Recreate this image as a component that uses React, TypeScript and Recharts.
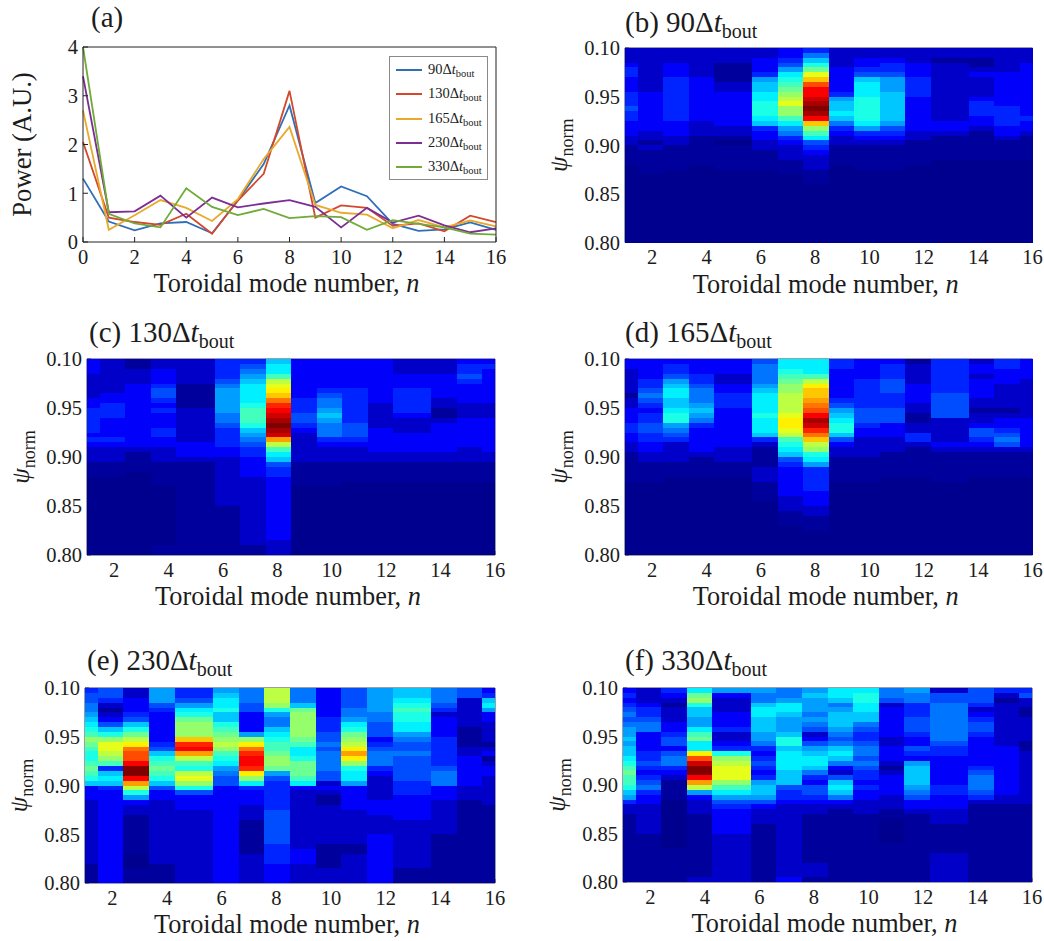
import React from "react";
import { LineChart, Line, ScatterChart, Scatter, XAxis, YAxis, Legend } from "recharts";

const MODES = [0, 1, 2, 3, 4, 5, 6, 7, 8, 9, 10, 11, 12, 13, 14, 15, 16];
const P90 = [1.3, 0.42, 0.24, 0.38, 0.41, 0.18, 0.85, 1.6, 2.8, 0.8, 1.14, 0.94, 0.37, 0.23, 0.26, 0.4, 0.25];
const P130 = [2.05, 0.5, 0.41, 0.35, 0.58, 0.17, 0.85, 1.4, 3.1, 0.5, 0.75, 0.7, 0.33, 0.38, 0.22, 0.54, 0.41];
const P165 = [2.7, 0.25, 0.55, 0.86, 0.7, 0.43, 0.88, 1.7, 2.36, 0.76, 0.6, 0.56, 0.28, 0.45, 0.3, 0.44, 0.32];
const P230 = [3.4, 0.61, 0.63, 0.95, 0.5, 0.91, 0.71, 0.79, 0.86, 0.72, 0.3, 0.7, 0.4, 0.54, 0.34, 0.2, 0.28];
const P330 = [4.0, 0.58, 0.38, 0.3, 1.1, 0.72, 0.55, 0.68, 0.49, 0.53, 0.51, 0.25, 0.45, 0.37, 0.3, 0.17, 0.15];
const SERIES_NAMES = ["90", "130", "165", "230", "330"];
const SERIES_VALUES = [P90, P130, P165, P230, P330];
const SERIES_COLORS = ["#2f6fb8", "#d4472a", "#e9a92d", "#7b2f92", "#6fab38"];

const X_TICKS_A = [0, 2, 4, 6, 8, 10, 12, 14, 16];
const Y_TICKS_A = [0, 1, 2, 3, 4];
const X_TICKS = [2, 4, 6, 8, 10, 12, 14, 16];
const Y_TICKS = [0.8, 0.85, 0.9, 0.95, 1.0];
const Y_TICK_LABELS = ["0.80", "0.85", "0.90", "0.95", "0.10"];

// Heat levels a (lowest) .. z (highest): one string per toroidal mode n = 1..16, 40 psi rows from top to bottom.
const HEAT_B = [
  "cccdeedddeeefeedddccbbbbaaaaaaaaaaaaaaaa",
  "cccccccccddddddddccbcbbbbbaaaaaaaaaaaaaa",
  "cccdddeeeeeeeeedddccbbbbbaaaaaaaaaaaaaaa",
  "ccccccdddddddddcccbbbbbbaaaaaaaaaaaaaaaa",
  "cccbbbbccdddddddccbabbbbbaaaaaaaaaaaaaaa",
  "ccdddehiijjkkkjieddccbbbbaaaaaaaaaaaaaaa",
  "ddefhjklmnopnnljhgedcccbbbaaaaaaaaaaaaaa",
  "egikmpruwwxyzywrnljfedcccbbbaaaaaaaaaaaa",
  "ccccdddddehiijigedccbbbbaaaaaaaaaaaaaaaa",
  "ccddefijjjkkkkkjhedcbbbbbaaaaaaaaaaaaaaa",
  "ccdeefhhhiiiiiihfedcbbbbbaaaaaaaaaaaaaaa",
  "cccdddeeeedddddddccbbbbbaaaaaaaaaaaaaaaa",
  "ccbccccccccccccddcbbbbbaaaaaaaaaaaaaaaaa",
  "ccbbcdccccdeeeddcbbbbbbaaaaaaaaaaaaaaaaa",
  "cccccdddddddeeeeddcbbbbaaaaaaaaaaaaaaaaa",
  "cccdddddddddddeddcbbbbbaaaaaaaaaaaaaaaaa",
];
const HEAT_C = [
  "dddcccccddeeeeededcccbbbaaaaaaaaaaaaaaaa",
  "cccccccddeeeddddedcccbbbaaaaaaaaaaaaaaaa",
  "bbcccdddddddddddddcbbbbaaaaaaaaaaaaaaaaa",
  "ccdddeffededddeeddcccbbbbbaaaaaaaaaaaabb",
  "cccccbbbbbcccccccdddcbbbbbbbbbbbbbbbbbbb",
  "eeeefghhhhhggfeeeeddccccccccccbbbbbbbbbb",
  "efghijjjjklllkihgfeeddddccccccccccccccbb",
  "ijjlopqrtvwxyzyxsoljifeedddddddddddddccc",
  "ddddddddeeeffedccccccbbbbbaaaaaaaaaaaaaa",
  "ddddddefgghihgggedcccbbbbbaaaaaaaaaaaaaa",
  "ddddddeeeeeeefffedcccbbbbaaaaaaaaaaaaaaa",
  "dddddddddcccccdddddccbbbbaaaaaaaaaaaaaaa",
  "cccdddeeeeedcccddddccbbbbaaaaaaaaaaaaaaa",
  "cccdddddccbbcddddddccbbbbaaaaaaaaaaaaaaa",
  "deefeddddcccddddddcccbbbbaaaaaaaaaaaaaaa",
  "dedddddddcccdddddddccbbbbaaaaaaaaaaaaaaa",
];
const HEAT_D = [
  "ddcccccbccdddeeddccbbbbbbaaaaaaaaaaaaaaa",
  "ddddeefgfedeeffeeddccbbbbaaaaaaaaaaaaaaa",
  "deefhijjiijkkhgfeccccbbbaaaaaaaaaaaaaaaa",
  "dddeefggghihgedddddcbbbbaaaaaaaaaaaaaaaa",
  "dddccddeeeddddddddcccbbbaaaaaaaaaaaaaaaa",
  "fgggghijjjjkjjjiecbbbbcccbbbbaaaaaaaaaaa",
  "jjklmnnoooopqqpolkjifeddddddcccbbbaaaaaa",
  "jjjloqrrstuwyxvtronkjheeeeedddccbbbaaaaa",
  "eeddddddefhijkkifdccbbbbbaaaaaaaaaaaaaaa",
  "ddddeeeeeefffeddccccbbbbbaaaaaaaaaaaaaaa",
  "deeefffeeefffdddcccbbbbbaaaaaaaaaaaaaaaa",
  "bccccddddccbbcceecbbbbbbaaaaaaaaaaaaaaaa",
  "eeeeeeefffffcccccdcbbbbbbaaaaaaaaaaaaaaa",
  "cddcddddccbccdffedcbbbbbaaaaaaaaaaaaaaaa",
  "eedddcccccbcddefgfcbbbbbaaaaaaaaaaaaaaaa",
  "ddddccccccccddddddcbbbbbaaaaaaaaaaaaaaaa",
];
const HEAT_E = [
  "effgghijklnmlkklmlkidddcccccccccccccbbbb",
  "ffecbcdfiknpponleijieddddddddddddddddddd",
  "ccdddefikmoqtuuwzzwsokhdccbbbbbbbbaaabbb",
  "hhhfeddddddefiklmlkifddcccccccccccccbbbb",
  "eefhjkmnnnrvwsolkopnkfdddccccccccccccccc",
  "hijjkiiklmnonlkjhgffdddddddddddddddddddd",
  "gggffddddhnqtvwwvqnjedddcccbbbbbbbcccccc",
  "ooonkhggijkllmnnmhfeeeeeefffffffeeeedddd",
  "gggimnnnnnmljjkmmmljdccccccccccccdddcccc",
  "ddddddeeeffgfggggffcdcbbccccccccbbbbbccc",
  "ffffgghjkmnoqsqnkjjhdddddcccccccbbcccccc",
  "hhhhhggfffdefgggedcccccdddccccdddddddddd",
  "iijklkkjjhgffgfffffeeedddddccccccccccbbb",
  "gggfecddddeeeeeefgggdddcccccccbbbbbbbbbb",
  "ffccccccbbbbccddddddcccbbbbbbbbbbbbbbbbb",
  "deijhddccccbcdbcddccccccbbbbbbbbbbbbbbbb",
];
const HEAT_F = [
  "dedefgfghhihiijklmllkiheccbbbbbbbbbbbbbb",
  "cccdeefggddddeefedefgeddccccccbbbbbbbbbb",
  "edcbcccddeffdfggedcbbbbaaaaaaaaaabbbbbbb",
  "jmnkiihhjlmjjquxzzwsohdcccbbbbbbbbbbbbbc",
  "hdcccdddeccdeknopppnljhfedddddcccccccccc",
  "hggijjiiihhgedefedehiihfdcccbbbbbbbbbbbb",
  "gghjjihhhikkijjjjiiifeedcccccccccccccccd",
  "hihhhghgfcdfhijjigedffedccbbbbbbbbbbcccb",
  "jjighiiihgfgijigdcfijigdcbbbbbbbbbbbbbbb",
  "jkkjjiigfeefggfgfeededdcccbbbbbbbbbbbbbb",
  "ggfcddddddccdddcbcddddcccbbaaaaabbbbbbbb",
  "hggeeefffeddfedhiiiihgfddcbbbbbbbbbbbbbb",
  "cffggggggggfeeddddddeedddcccbbbbbbcccccc",
  "fffecdeffeddddddefgggfecbbbbbbbbbbbbbbbb",
  "ecbcccccccccddddddddddccbbbbbbbbbbbbbbbb",
  "efccbbcccccbbcccccccccccbbbbbbbbbbbbbbbb",
];

// How many of the 32 image sub-columns each mode occupies.
const MODE_SPANS = [1, 2, 2, 2, 3, 2, 2, 2, 2, 2, 2, 2, 3, 2, 2, 1];
// The four lowest letters are spaced by hand so the dark blues stay gentle.
const LOW_LEVELS = [0, 0.012, 0.055, 0.105];

const SERIF = '"Liberation Serif", "Times New Roman", serif';
const INK = "#1c1c1c";
const AXIS = "#3a3a4a";
const TICK = { fontFamily: SERIF, fontSize: 20.5, fill: INK };
const YAXIS_W = 85;

function clamp(x: number) {
  return Math.max(0, Math.min(1, x));
}
function jet(v: number) {
  const r = clamp(Math.min(4 * v - 1.5, -4 * v + 4.5));
  const g = clamp(Math.min(4 * v - 0.5, -4 * v + 3.5));
  const b = clamp(Math.min(4 * v + 0.5625, -4 * v + 2.5));
  return `rgb(${Math.round(r * 255)},${Math.round(g * 255)},${Math.round(b * 255)})`;
}
function levelOf(ch: string) {
  const i = ch.charCodeAt(0) - 97;
  return i < LOW_LEVELS.length ? LOW_LEVELS[i] : i / 25;
}

function heatPoints(cols: string[]) {
  let k = 0;
  const out: { x: number; y: number; v: number; span: number }[] = [];
  cols.forEach((col, m) => {
    const span = MODE_SPANS[m];
    const x = 1 + ((k + span / 2) * 15) / 32;
    k += span;
    col.split("").forEach((ch, i) => {
      out.push({ x, y: 1 - (i + 0.5) * 0.005, v: levelOf(ch), span });
    });
  });
  return out;
}

function AxisTitleX({ viewBox }: any) {
  return (
    <text
      x={viewBox.x + viewBox.width / 2 - 3}
      y={viewBox.y + 50}
      textAnchor="middle"
      fontFamily={SERIF}
      fontSize={26.3}
      fill={INK}
    >
      Toroidal mode number, <tspan fontStyle="italic">n</tspan>
    </text>
  );
}

function PsiLabel({ viewBox }: any) {
  const x = viewBox.x + viewBox.width - 58;
  const y = viewBox.y + viewBox.height / 2;
  return (
    <text transform={`rotate(-90 ${x} ${y})`} x={x} y={y} textAnchor="middle" fontFamily={SERIF} fill={INK} fontSize={25}>
      <tspan fontStyle="italic">ψ</tspan>
      <tspan fontSize={18} dy={6}>norm</tspan>
    </text>
  );
}

function PowerLabel({ viewBox }: any) {
  const x = viewBox.x + viewBox.width - 52;
  const y = viewBox.y + viewBox.height / 2;
  return (
    <text transform={`rotate(-90 ${x} ${y})`} x={x} y={y} textAnchor="middle" fontFamily={SERIF} fill={INK} fontSize={26.7}>
      Power (A.U.)
    </text>
  );
}

function Heat({ cols, x0, x1, y0, y1 }: { cols: string[]; x0: number; x1: number; y0: number; y1: number }) {
  const W = 520;
  const left = x0 - YAXIS_W;
  const H = y1 - y0 + 90;
  const top = y0 - 20;
  const plotW = x1 - x0;
  const plotH = y1 - y0;
  const data = React.useMemo(() => heatPoints(cols), [cols]);
  const cell = (p: any) => {
    const w = (p.payload.span * plotW) / 32;
    const h = plotH / 40;
    return (
      <rect
        x={p.cx - w / 2}
        y={p.cy - h / 2}
        width={w + 0.4}
        height={h + 0.4}
        fill={jet(p.payload.v)}
        shapeRendering="crispEdges"
      />
    );
  };
  return (
    <div style={{ position: "absolute", left, top }}>
      <ScatterChart width={W} height={H} margin={{ top: 19, left: 0, right: W - YAXIS_W - plotW - 1, bottom: 0 }}>
        <Scatter xAxisId="b" yAxisId="l" data={data} shape={cell} isAnimationActive={false} />
        <XAxis
          xAxisId="b"
          dataKey="x"
          type="number"
          domain={[1, 16]}
          ticks={X_TICKS}
          interval={0}
          allowDecimals={false}
          height={70}
          orientation="bottom"
          tick={TICK}
          tickSize={-4}
          tickMargin={11}
          stroke={AXIS}
          label={<AxisTitleX />}
        />
        <XAxis xAxisId="t" type="number" domain={[1, 16]} ticks={X_TICKS} interval={0} orientation="top" height={1} tick={false} tickSize={-4} stroke={AXIS} />
        <YAxis
          yAxisId="l"
          dataKey="y"
          type="number"
          domain={[0.8, 1]}
          ticks={Y_TICKS}
          interval={0}
          width={YAXIS_W}
          tick={TICK}
          tickSize={-4}
          tickMargin={9}
          stroke={AXIS}
          tickFormatter={(v: number) => Y_TICK_LABELS[Y_TICKS.findIndex((t) => Math.abs(t - v) < 1e-6)]}
          label={<PsiLabel />}
        />
        <YAxis yAxisId="r" type="number" domain={[0.8, 1]} ticks={Y_TICKS} interval={0} orientation="right" width={1} tick={false} tickSize={-4} stroke={AXIS} />
      </ScatterChart>
    </div>
  );
}

function PowerLegend({ payload }: any) {
  return (
    <div
      style={{
        width: 99,
        height: 124,
        boxSizing: "border-box",
        border: "1px solid #8a8a8a",
        background: "#fff",
        fontFamily: SERIF,
        fontSize: 14.5,
        color: INK,
        paddingTop: 1,
      }}
    >
      {(payload || []).map((e: any) => (
        <div key={e.value} style={{ display: "flex", alignItems: "center", height: 24.3, whiteSpace: "nowrap", lineHeight: "20px" }}>
          <span style={{ display: "inline-block", width: 26, height: 2, background: e.color, marginLeft: 6, marginRight: 6 }} />
          <span>
            {e.value}Δ<i>t</i>
            <span style={{ fontSize: 10.5, position: "relative", top: 3 }}>bout</span>
          </span>
        </div>
      ))}
    </div>
  );
}

function PanelA() {
  const data = MODES.map((n, i) => {
    const row: any = { n };
    SERIES_NAMES.forEach((name, s) => {
      row[name] = SERIES_VALUES[s][i];
    });
    return row;
  });
  const x0 = 83, x1 = 496, y0 = 47, y1 = 242;
  const W = 520;
  const H = y1 - y0 + 90;
  return (
    <div style={{ position: "absolute", left: 0, top: y0 - 20 }}>
      <LineChart width={W} height={H} data={data} margin={{ top: 19, left: 0, right: W - x1 - 1, bottom: 0 }}>
        <XAxis
          xAxisId="b"
          dataKey="n"
          type="number"
          domain={[0, 16]}
          ticks={X_TICKS_A}
          interval={0}
          height={70}
          tick={TICK}
          tickSize={-5}
          tickMargin={12}
          stroke="#222"
          label={<AxisTitleX />}
        />
        <XAxis xAxisId="t" dataKey="n" type="number" domain={[0, 16]} ticks={X_TICKS_A} interval={0} orientation="top" height={1} tick={false} tickSize={-5} stroke="#222" />
        <YAxis
          yAxisId="l"
          type="number"
          domain={[0, 4]}
          ticks={Y_TICKS_A}
          interval={0}
          width={x0}
          tick={TICK}
          tickSize={-5}
          tickMargin={10}
          stroke="#222"
          label={<PowerLabel />}
        />
        <YAxis yAxisId="r" type="number" domain={[0, 4]} ticks={Y_TICKS_A} interval={0} orientation="right" width={1} tick={false} tickSize={-5} stroke="#222" />
        {SERIES_NAMES.map((name, s) => (
          <Line
            key={name}
            xAxisId="b"
            yAxisId="l"
            dataKey={name}
            name={name}
            stroke={SERIES_COLORS[s]}
            strokeWidth={1.8}
            dot={false}
            isAnimationActive={false}
          />
        ))}
        <Legend
          layout="horizontal"
          align="center"
          verticalAlign="middle"
          itemSorter={null}
          content={<PowerLegend />}
          wrapperStyle={{ left: 389, top: 56 - (y0 - 20), width: 99, height: 124 }}
        />
      </LineChart>
    </div>
  );
}

function Title({ x, y, tag, value }: { x: number; y: number; tag: string; value?: string }) {
  return (
    <div
      style={{
        position: "absolute",
        left: x,
        top: y - 26,
        fontFamily: SERIF,
        fontSize: 29,
        lineHeight: "30px",
        color: INK,
        whiteSpace: "nowrap",
      }}
    >
      {tag}
      {value ? (
        <>
          {" "}
          {value}Δ<i>t</i>
          <span style={{ fontSize: 20, position: "relative", top: 6 }}>bout</span>
        </>
      ) : null}
    </div>
  );
}

export default function App() {
  return (
    <div style={{ position: "absolute", left: 0, top: 0, width: 1044, height: 941, background: "#fff", overflow: "hidden" }}>
      <PanelA />
      <Heat cols={HEAT_B} x0={624.5} x1={1032} y0={47.5} y1={242} />
      <Heat cols={HEAT_C} x0={87} x1={495} y0={359} y1={555} />
      <Heat cols={HEAT_D} x0={624.5} x1={1032} y0={359} y1={555} />
      <Heat cols={HEAT_E} x0={85} x1={495} y0={688} y1={883} />
      <Heat cols={HEAT_F} x0={623} x1={1032} y0={688} y1={882} />
      <Title x={91} y={28} tag="(a)" />
      <Title x={625} y={33} tag="(b)" value="90" />
      <Title x={89} y={343} tag="(c)" value="130" />
      <Title x={625} y={343} tag="(d)" value="165" />
      <Title x={87} y={671} tag="(e)" value="230" />
      <Title x={625} y={671} tag="(f)" value="330" />
    </div>
  );
}
